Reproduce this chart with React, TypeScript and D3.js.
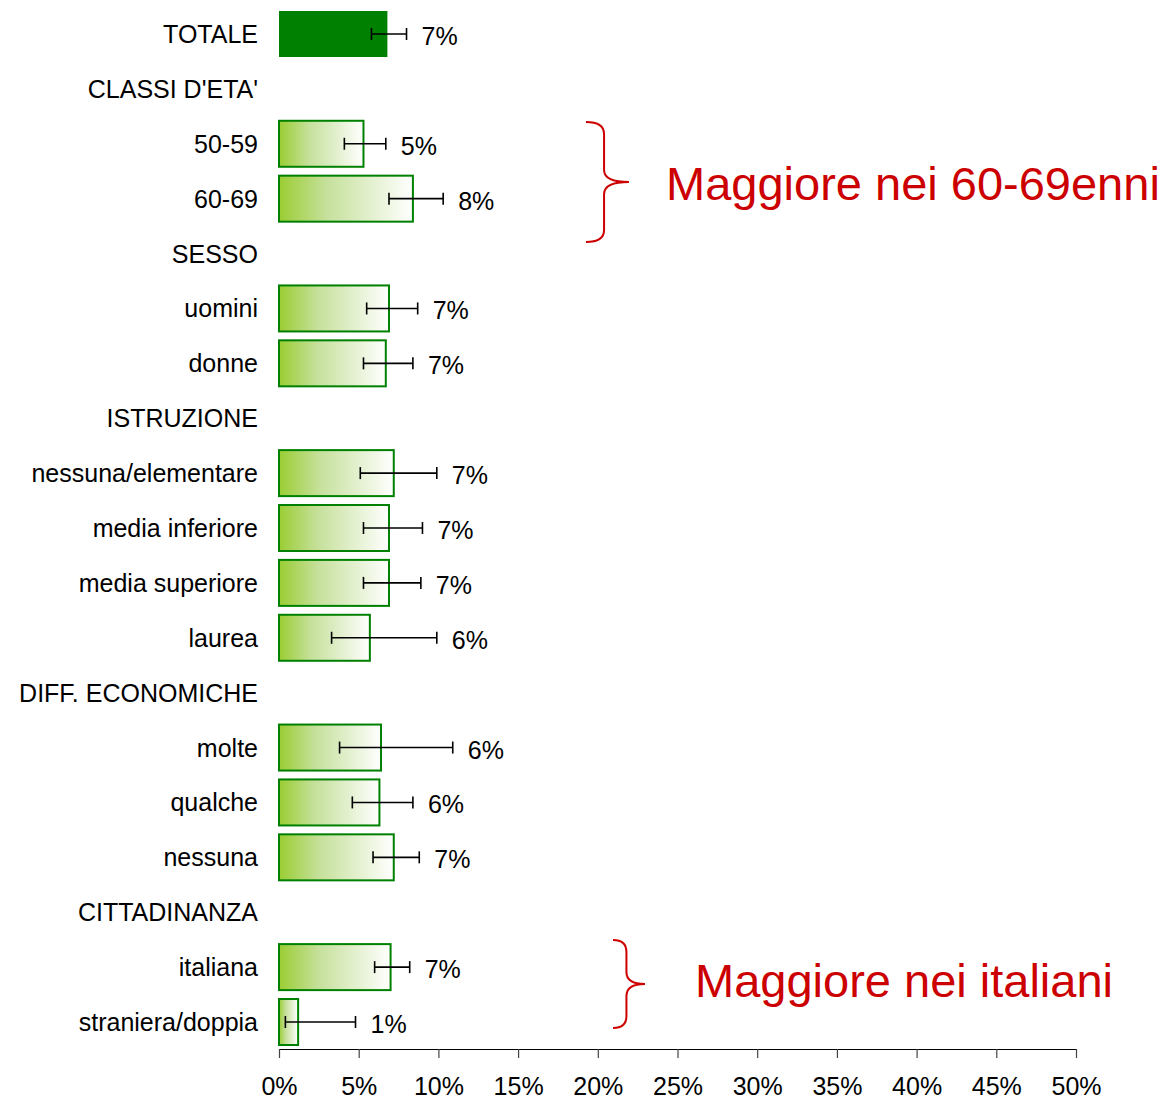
import React, { useEffect, useRef } from 'react';
import * as d3 from 'd3';

const categories = [
  'TOTALE', "CLASSI D'ETA'", '50-59', '60-69', 'SESSO', 'uomini', 'donne',
  'ISTRUZIONE', 'nessuna/elementare', 'media inferiore', 'media superiore', 'laurea',
  'DIFF. ECONOMICHE', 'molte', 'qualche', 'nessuna', 'CITTADINANZA', 'italiana', 'straniera/doppia'
];
const values = [6.8, null, 5.3, 8.4, null, 6.9, 6.7, null, 7.2, 6.9, 6.9, 5.7, null, 6.4, 6.3, 7.2, null, 7.0, 1.2];
const lower = [5.8, null, 4.1, 6.9, null, 5.5, 5.3, null, 5.1, 5.3, 5.3, 3.3, null, 3.8, 4.6, 5.9, null, 6.0, 0.4];
const upper = [8.0, null, 6.7, 10.3, null, 8.7, 8.4, null, 9.9, 9.0, 8.9, 9.9, null, 10.9, 8.4, 8.8, null, 8.2, 4.8];
const ticks = [0, 5, 10, 15, 20, 25, 30, 35, 40, 45, 50];

const notes = [
  { text: 'Maggiore nei 60-69enni', top: 122, bottom: 242, x0: 586, x1: 629, tx: 666, ty: 200 },
  { text: 'Maggiore nei italiani', top: 940, bottom: 1028, x0: 613, x1: 645, tx: 695, ty: 997 }
];

const FONT = '"Liberation Sans", Arial, Helvetica, sans-serif';

export default function App() {
  const svgRef = useRef<SVGSVGElement | null>(null);

  useEffect(() => {
    if (!svgRef.current) return;
    const width = 1171;
    const height = 1099;

    const svg = d3.select(svgRef.current);
    svg.selectAll('*').remove();
    svg.attr('width', width).attr('height', height).style('font-family', FONT);

    const x = d3.scaleLinear().domain([0, 50]).range([279, 1076]);
    const y = d3.scalePoint<number>().domain(d3.range(categories.length)).range([34, 1022]);
    const barH = 46;
    const axisY = 1049;

    const defs = svg.append('defs');
    const grad = defs.append('linearGradient').attr('id', 'barGrad')
      .attr('x1', 0).attr('x2', 1).attr('y1', 0).attr('y2', 0);
    grad.append('stop').attr('offset', '0%').attr('stop-color', '#9acd32');
    grad.append('stop').attr('offset', '35%').attr('stop-color', '#c5e09a');
    grad.append('stop').attr('offset', '100%').attr('stop-color', '#ffffff');

    // category labels
    svg.append('g').selectAll('text')
      .data(categories)
      .enter()
      .append('text')
      .attr('x', 258)
      .attr('y', (d, i) => y(i)!)
      .attr('dy', '0.36em')
      .attr('text-anchor', 'end')
      .style('font-size', '25px')
      .style('fill', '#000')
      .text(d => d);

    const rows = categories.map((c, i) => ({ c, i, v: values[i], lo: lower[i], hi: upper[i] }))
      .filter(d => d.v !== null) as { c: string; i: number; v: number; lo: number; hi: number }[];

    // bars
    svg.append('g').selectAll('rect')
      .data(rows)
      .enter()
      .append('rect')
      .attr('x', x(0))
      .attr('y', d => y(d.i)! - barH / 2)
      .attr('width', d => x(d.v) - x(0))
      .attr('height', barH)
      .attr('fill', d => d.i === 0 ? '#008000' : 'url(#barGrad)')
      .attr('stroke', '#008000')
      .attr('stroke-width', d => d.i === 0 ? 0 : 2);

    // error bars
    const err = svg.append('g').attr('stroke', '#000').attr('stroke-width', 1.6);
    rows.forEach(d => {
      const cy = y(d.i)!;
      err.append('line').attr('x1', x(d.lo)).attr('x2', x(d.hi)).attr('y1', cy).attr('y2', cy);
      err.append('line').attr('x1', x(d.lo)).attr('x2', x(d.lo)).attr('y1', cy - 6).attr('y2', cy + 6);
      err.append('line').attr('x1', x(d.hi)).attr('x2', x(d.hi)).attr('y1', cy - 6).attr('y2', cy + 6);
    });

    // value labels
    svg.append('g').selectAll('text')
      .data(rows)
      .enter()
      .append('text')
      .attr('x', d => x(d.hi) + 15)
      .attr('y', d => y(d.i)! + 2)
      .attr('dy', '0.36em')
      .style('font-size', '25px')
      .style('fill', '#000')
      .text(d => Math.round(d.v) + '%');

    // x axis
    const axis = svg.append('g')
      .attr('transform', `translate(0,${axisY})`)
      .call(d3.axisBottom(x).tickValues(ticks).tickFormat(d => d + '%').tickSize(9).tickSizeOuter(0).tickPadding(19));
    axis.select('.domain').attr('stroke', '#000').attr('stroke-width', 1.2);
    axis.selectAll('.tick line').attr('stroke', '#444').attr('stroke-width', 1.2);
    axis.selectAll('.tick text').style('font-size', '25px').style('font-family', FONT).attr('fill', '#000');

    // annotations
    notes.forEach(n => {
      const mid = (n.top + n.bottom) / 2;
      const xm = n.x0 + (n.x1 - n.x0) * 0.42;
      const r = 12;
      const p = d3.path();
      p.moveTo(n.x0, n.top);
      p.quadraticCurveTo(xm, n.top, xm, n.top + r);
      p.lineTo(xm, mid - r);
      p.quadraticCurveTo(xm, mid, n.x1, mid);
      p.quadraticCurveTo(xm, mid, xm, mid + r);
      p.lineTo(xm, n.bottom - r);
      p.quadraticCurveTo(xm, n.bottom, n.x0, n.bottom);
      svg.append('path').attr('d', p.toString())
        .attr('fill', 'none').attr('stroke', '#cc0000').attr('stroke-width', 2);
      svg.append('text')
        .attr('x', n.tx)
        .attr('y', n.ty)
        .style('font-size', '47px')
        .style('fill', '#cc0000')
        .text(n.text);
    });
  }, []);

  return (
    <div style={{ position: 'absolute', left: 0, top: 0 }}>
      <svg ref={svgRef}></svg>
    </div>
  );
}
